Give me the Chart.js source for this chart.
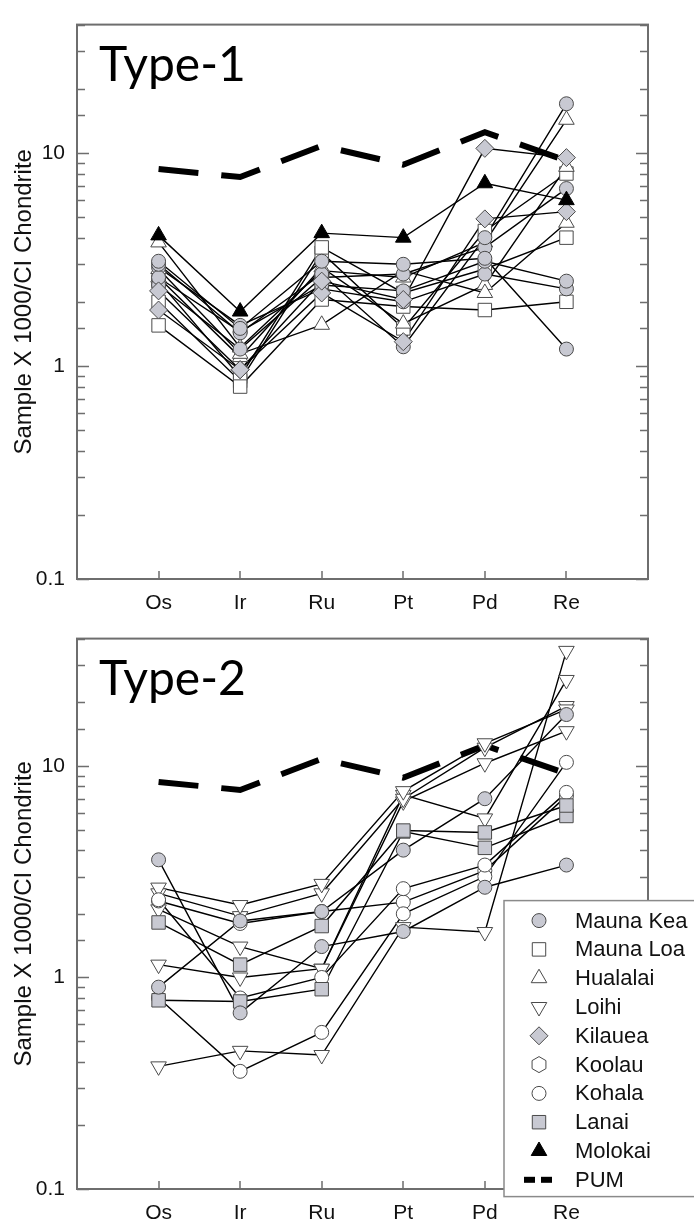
<!DOCTYPE html>
<html>
<head>
<meta charset="utf-8">
<script src="https://cdn.jsdelivr.net/npm/chart.js@4.4.1/dist/chart.umd.min.js"></script>
<style>
  html, body { margin: 0; padding: 0; background: #fff; }
  .panel { position: absolute; left: 0; width: 694px; }
  #p1 { top: 0; height: 614px; }
  #p2 { top: 614px; height: 611px; }
</style>
</head>
<body>
<div class="panel" id="p1"><canvas id="type1"></canvas></div>
<div class="panel" id="p2"><canvas id="type2"></canvas></div>
<script>
const elements = ['Os', 'Ir', 'Ru', 'Pt', 'Pd', 'Re'];
const yTickLabels = [0.1, 1, 10];
const pum = [8.4, 7.7, 10.8, 8.8, 12.5, 9.2];

// Type-1 samples, each row is [Os, Ir, Ru, Pt, Pd, Re]
const t1MaunaKea = [
  [3.1, 1.5, 3.1, 3.0, 3.2, 1.2],
  [3.0, 1.43, 2.7, 1.23, 4.0, 17.0],
  [2.6, 1.45, 2.4, 2.25, 3.1, 2.5],
  [2.9, 1.55, 2.3, 2.0, 2.7, 2.3],
  [2.4, 1.2, 2.6, 2.7, 3.6, 6.8]
];
const t1MaunaLoa = [
  [1.55, 0.8, 2.05, 1.9, 1.83, 2.0],
  [2.5, 0.89, 3.6, 2.2, 2.85, 4.0],
  [2.0, 0.85, 3.4, 1.5, 4.3, 8.0]
];
const t1Hualalai = [
  [3.8, 1.22, 2.8, 2.6, 3.8, 14.3],
  [2.85, 1.14, 1.56, 2.8, 2.2, 4.7],
  [2.6, 1.1, 2.9, 1.58, 2.4, 8.6]
];
const t1Kilauea = [
  [2.25, 0.96, 2.5, 2.05, 10.5, 9.5],
  [1.83, 0.96, 2.2, 1.3, 4.9, 5.3]
];
const t1Molokai = [
  [4.1, 1.8, 4.2, 4.0, 7.2, 6.0]
];

// Type-2 samples
const t2MaunaKea = [
  [3.6, 0.68, 1.4, 1.65, 2.67, 3.4],
  [0.9, 1.85, 2.05, 4.0, 7.0, 17.5]
];
const t2Loihi = [
  [2.66, 2.2, 2.77, 7.6, 12.8, 18.5],
  [2.5, 1.95, 2.5, 7.0, 12.2, 19.2],
  [2.1, 1.4, 1.1, 6.8, 10.3, 14.6],
  [1.15, 1.0, 1.1, 7.3, 5.65, 25.5],
  [0.38, 0.45, 0.43, 1.73, 1.64, 35]
];
const t2Kohala = [
  [2.33, 0.8, 1.0, 2.63, 3.4, 7.5],
  [0.8, 0.36, 0.55, 2.0, 3.0, 10.4],
  [2.3, 1.8, 2.05, 2.27, 3.2, 7.2]
];
const t2Lanai = [
  [1.82, 1.15, 1.75, 4.95, 4.85, 6.5],
  [0.78, 0.77, 0.88, 4.9, 4.1, 5.8]
];

const legendNames = ['Mauna Kea', 'Mauna Loa', 'Hualalai', 'Loihi', 'Kilauea', 'Koolau', 'Kohala', 'Lanai', 'Molokai', 'PUM'];

const GRAY = '#c8c9d2';
const EDGE = '#4a4a4a';
const AXIS = '#6e6e6e';
const FONT = "'Liberation Sans', Arial, sans-serif";

const markers = {
  'Mauna Kea': { pointStyle: 'circle', radius: 7, bg: GRAY },
  'Mauna Loa': { pointStyle: 'rect', radius: 9.5, bg: '#fff' },
  'Hualalai': { pointStyle: 'triangle', radius: 9, bg: '#fff' },
  'Loihi': { pointStyle: 'triangle', radius: 9, bg: '#fff', rotation: 180 },
  'Kilauea': { pointStyle: 'rectRot', radius: 9, bg: GRAY },
  'Koolau': { pointStyle: 'hexagon', radius: 8, bg: '#fff' },
  'Kohala': { pointStyle: 'circle', radius: 7, bg: '#fff' },
  'Lanai': { pointStyle: 'rect', radius: 9.5, bg: GRAY },
  'Molokai': { pointStyle: 'triangle', radius: 9, bg: '#000' }
};

function toPoints(row) {
  return row.map((v, i) => ({ x: i + 1, y: v }));
}

function buildDatasets(groups) {
  const lines = [];
  const points = [];
  groups.forEach(([name, rows]) => {
    const m = markers[name];
    rows.forEach(row => {
      lines.push({
        label: name, data: toPoints(row),
        borderColor: '#000', borderWidth: 1.4, pointRadius: 0, fill: false
      });
      points.push({
        label: name, data: toPoints(row), showLine: false,
        pointStyle: m.pointStyle, pointRadius: m.radius, pointRotation: m.rotation || 0,
        pointBackgroundColor: m.bg, pointBorderColor: name === 'Molokai' ? '#000' : EDGE,
        pointBorderWidth: 1
      });
    });
  });
  const pumSet = {
    label: 'PUM', data: toPoints(pum),
    borderColor: '#000', borderWidth: 6, borderDash: [40, 23],
    borderCapStyle: 'butt', borderJoinStyle: 'miter', pointRadius: 0, fill: false
  };
  // first dataset is painted last
  return [...points, ...lines, pumSet];
}

function isMajor(v) {
  return yTickLabels.some(t => Math.abs(v - t) / t < 1e-6);
}

const frame = {
  id: 'frame',
  beforeDatasetsDraw(chart) {
    const { ctx, chartArea: a, scales: { x, y } } = chart;
    ctx.save();
    ctx.strokeStyle = AXIS;
    ctx.lineWidth = 1.5;
    ctx.beginPath();
    for (let i = 1; i <= elements.length; i++) {
      const px = Math.round(x.getPixelForValue(i));
      ctx.moveTo(px, a.bottom);
      ctx.lineTo(px, a.bottom - 8);
    }
    y.ticks.forEach(t => {
      const py = Math.round(y.getPixelForValue(t.value)) + 0.5;
      const len = isMajor(t.value) ? 12 : 8;
      ctx.moveTo(a.left, py); ctx.lineTo(a.left + len, py);
      ctx.moveTo(a.right, py); ctx.lineTo(a.right - len, py);
    });
    ctx.stroke();
    ctx.lineWidth = 2;
    ctx.strokeRect(a.left, a.top, a.right - a.left, a.bottom - a.top);
    ctx.fillStyle = '#000';
    ctx.font = "48px Lato, 'Open Sans', sans-serif";
    ctx.textBaseline = 'alphabetic';
    ctx.fillText(chart.options.plugins.frame.title, a.left + 22, a.top + 56);
    ctx.restore();
  }
};

function drawHexagon(ctx, x, y, r) {
  ctx.beginPath();
  for (let k = 0; k < 6; k++) {
    const ang = Math.PI / 6 + k * Math.PI / 3;
    const px = x + r * Math.cos(ang), py = y + r * Math.sin(ang);
    if (k === 0) ctx.moveTo(px, py); else ctx.lineTo(px, py);
  }
  ctx.closePath();
  ctx.fill();
  ctx.stroke();
}

const legendBox = {
  id: 'legendBox',
  afterDraw(chart) {
    if (!chart.options.plugins.legendBox.show) return;
    const { ctx, chartArea: a } = chart;
    const bx = 504, by = a.top + 262, bw = 200, bh = 296;
    ctx.save();
    ctx.fillStyle = '#fff';
    ctx.strokeStyle = '#8a8a8a';
    ctx.lineWidth = 1.5;
    ctx.fillRect(bx, by, bw, bh);
    ctx.strokeRect(bx, by, bw, bh);
    ctx.font = '22px ' + FONT;
    ctx.textBaseline = 'middle';
    legendNames.forEach((name, i) => {
      const cy = by + 20 + i * 28.8;
      const cx = bx + 35;
      if (name === 'PUM') {
        ctx.fillStyle = '#000';
        ctx.fillRect(cx - 15, cy - 3, 11, 6);
        ctx.fillRect(cx + 2, cy - 3, 11, 6);
      } else {
        const m = markers[name];
        ctx.fillStyle = m.bg;
        ctx.strokeStyle = name === 'Molokai' ? '#000' : EDGE;
        ctx.lineWidth = 1;
        if (m.pointStyle === 'hexagon') {
          drawHexagon(ctx, cx, cy, m.radius);
        } else {
          Chart.helpers.drawPoint(ctx, {
            pointStyle: m.pointStyle, radius: m.radius, rotation: m.rotation || 0, borderWidth: 1
          }, cx, cy);
        }
      }
      ctx.fillStyle = '#111';
      ctx.fillText(name, bx + 71, cy + 1);
    });
    ctx.restore();
  }
};

function makeChart(id, title, groups, padTop, xHeight, showLegend) {
  return new Chart(document.getElementById(id), {
    type: 'line',
    data: { datasets: buildDatasets(groups) },
    plugins: [frame, legendBox],
    options: {
      responsive: true,
      maintainAspectRatio: false,
      animation: false,
      layout: { padding: { top: padTop, right: 46, bottom: 0, left: 0 } },
      plugins: {
        legend: { display: false },
        tooltip: { enabled: false },
        frame: { title: title },
        legendBox: { show: showLegend }
      },
      scales: {
        x: {
          type: 'linear', min: 0, max: 7,
          grid: { display: false, drawTicks: false },
          border: { display: false },
          afterFit(scale) { scale.height = xHeight; },
          ticks: {
            stepSize: 1, autoSkip: false, padding: 12,
            color: '#111', font: { family: FONT, size: 21 },
            callback: v => elements[v - 1] || ''
          }
        },
        y: {
          type: 'logarithmic', min: 0.1, max: 40,
          grid: { display: false, drawTicks: false },
          border: { display: false },
          afterFit(scale) { scale.width = 77; },
          title: {
            display: true, text: 'Sample X 1000/CI Chondrite',
            color: '#111', font: { family: FONT, size: 24 },
            padding: { top: 10, bottom: 0 }
          },
          ticks: {
            autoSkip: false, padding: 12,
            color: '#111', font: { family: FONT, size: 21 },
            callback: v => isMajor(v) ? String(yTickLabels.find(t => Math.abs(v - t) / t < 1e-6)) : ''
          }
        }
      }
    }
  });
}

makeChart('type1', 'Type-1', [
  ['Molokai', t1Molokai],
  ['Kilauea', t1Kilauea],
  ['Mauna Kea', t1MaunaKea],
  ['Hualalai', t1Hualalai],
  ['Mauna Loa', t1MaunaLoa]
], 9, 35, false);

makeChart('type2', 'Type-2', [
  ['Mauna Kea', t2MaunaKea],
  ['Lanai', t2Lanai],
  ['Kohala', t2Kohala],
  ['Loihi', t2Loihi]
], 6, 36, true);
</script>
</body>
</html>
